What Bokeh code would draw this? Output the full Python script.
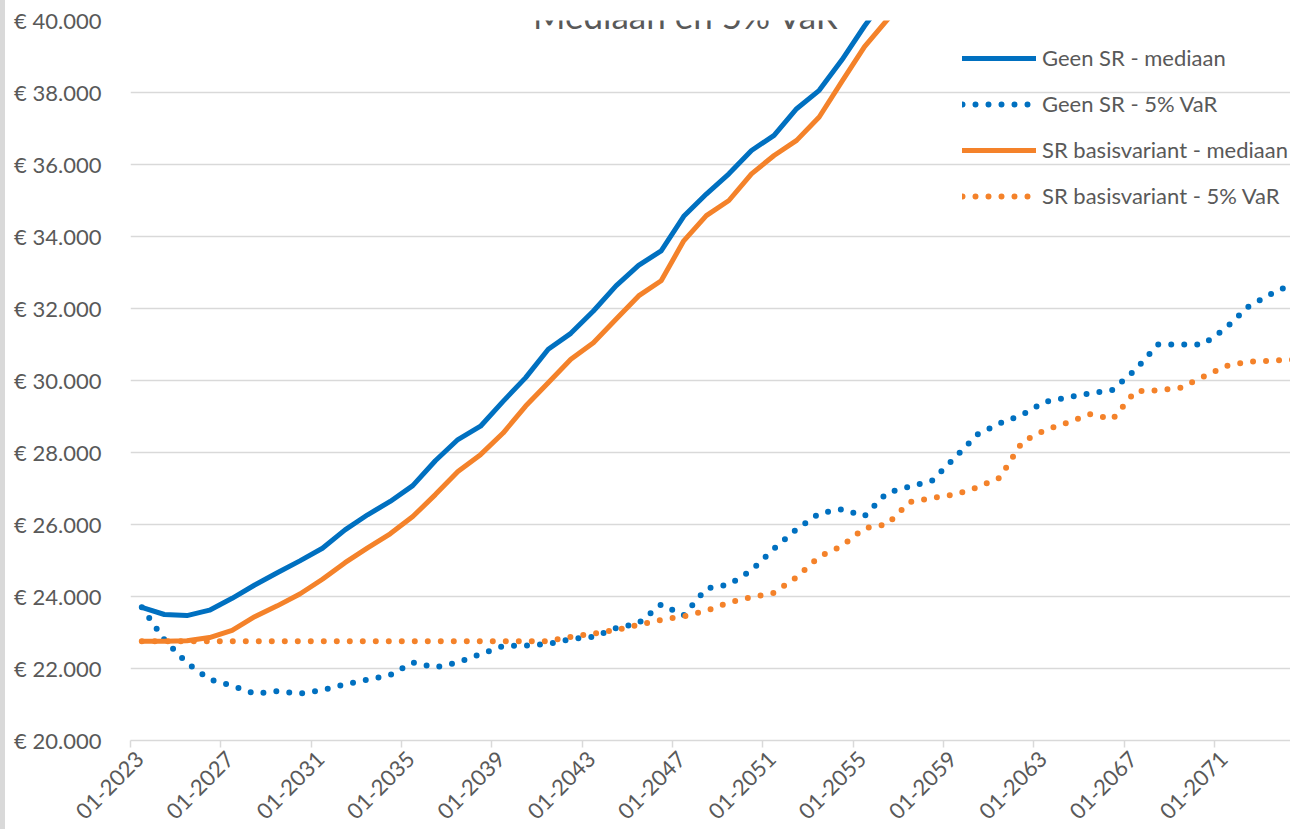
from math import pi
from bokeh.plotting import figure
from bokeh.layouts import row
from bokeh.models import (Range1d, FixedTicker, Legend, LegendItem, Label, Div,
                          LinearAxis)
from bokeh.embed import file_html
from bokeh.resources import INLINE

# ---- data (yearly values, plotted mid-year) ----
years = list(range(2023, 2075))

geen_sr_mediaan = [23700, 23500, 23470, 23620, 23950, 24320, 24660, 24990, 25340, 25850,
                   26270, 26640, 27080, 27770, 28360, 28730, 29420, 30080, 30870, 31310,
                   31930, 32630, 33200, 33600, 34560, 35180, 35740, 36390, 36810, 37550,
                   38060, 38900, 39840, 40700, 41500]

geen_sr_var = [23700, 22800, 22150, 21700, 21520, 21300, 21370, 21300, 21400, 21560,
               21690, 21820, 22170, 22030, 22170, 22400, 22620, 22640, 22680, 22820,
               22880, 23120, 23260, 23780, 23480, 24220, 24330, 24730, 25330, 25870,
               26310, 26420, 26230, 26880, 27050, 27220, 27850, 28500, 28810, 29050,
               29410, 29530, 29640, 29740, 30300, 31000, 31000, 31000, 31450, 32050,
               32400, 32700]

sr_basis_mediaan = [22760, 22760, 22770, 22860, 23060, 23440, 23740, 24070, 24480, 24940,
                    25350, 25740, 26220, 26830, 27470, 27940, 28540, 29290, 29940, 30590,
                    31050, 31700, 32350, 32770, 33880, 34580, 35000, 35740, 36250, 36670,
                    37320, 38300, 39270, 40010, 40800]

sr_basis_var = [22760, 22760, 22760, 22760, 22760, 22760, 22760, 22760, 22760, 22760,
                22760, 22760, 22760, 22760, 22760, 22760, 22760, 22760, 22760, 22880,
                22970, 23070, 23210, 23350, 23450, 23600, 23830, 23980, 24100, 24540,
                25110, 25400, 25900, 26000, 26620, 26740, 26830, 27030, 27300, 28300,
                28620, 28830, 29060, 28930, 29700, 29730, 29800, 30100, 30400, 30520,
                30550, 30580]

series_names = ["Geen SR - mediaan", "Geen SR - 5% VaR",
                "SR basisvariant - mediaan", "SR basisvariant - 5% VaR"]

tick_years = list(range(2023, 2072, 4))
tick_labels = ["01-%d" % y for y in tick_years]
y_ticks = list(range(20000, 40001, 2000))
y_labels = ["€ %d.%03d" % (v // 1000, v % 1000) for v in y_ticks]

title_text = "Mediaan en 5% VaR"

BLUE = "#0070C0"
ORANGE = "#F4822A"
GREY_TXT = "#595959"
GRID = "#D9D9D9"
FONT = "Lato"

BAR_W = 5
X0, X1 = 2023, 2074.37
Y0, Y1 = 20000, 40000
PX = (Y1 - Y0) / 720.0  # data units per pixel (vertical)

p = figure(width=1290 - BAR_W, height=829, output_backend="svg", toolbar_location=None,
           x_range=Range1d(X0, X1), y_range=Range1d(Y0, Y1), x_axis_location=None,
           min_border_left=130 - BAR_W, min_border_right=0, min_border_top=20,
           min_border_bottom=89, margin=0)
p.outline_line_color = None
p.background_fill_color = "white"
p.border_fill_color = "white"

xm = lambda n: [y + 0.5 for y in years[:n]]

r1 = p.line(xm(len(geen_sr_mediaan)), geen_sr_mediaan, line_color=BLUE, line_width=5,
            line_join="round", line_cap="round")
r2 = p.line(xm(len(geen_sr_var)), geen_sr_var, line_color=BLUE, line_width=6,
            line_dash="0 13", line_cap="round", line_join="round")
r3 = p.line(xm(len(sr_basis_mediaan)), sr_basis_mediaan, line_color=ORANGE, line_width=5,
            line_join="round", line_cap="round")
r4 = p.line(xm(len(sr_basis_var)), sr_basis_var, line_color=ORANGE, line_width=6,
            line_dash="0 13", line_cap="round", line_join="round")

# y axis
p.xgrid.visible = False
p.ygrid.grid_line_color = GRID
p.ygrid.grid_line_width = 1.5

p.yaxis.ticker = FixedTicker(ticks=y_ticks)
p.yaxis.major_label_overrides = {v: l for v, l in zip(y_ticks, y_labels)}
p.yaxis.axis_line_color = None
p.yaxis.major_tick_line_color = None
p.yaxis.minor_tick_line_color = None
p.yaxis.major_label_standoff = 23
p.yaxis.major_label_text_font = FONT
p.yaxis.major_label_text_font_size = "22px"
p.yaxis.major_label_text_color = GREY_TXT

# x axis on a slightly shifted range so the rotated labels sit Excel-style to the
# right of their tick; the tick marks themselves are minor ticks at the true years
SHIFT = 0.42
p.extra_x_ranges = {"lab": Range1d(X0 - SHIFT, X1 - SHIFT)}
xaxis = LinearAxis(x_range_name="lab",
                   ticker=FixedTicker(ticks=tick_years,
                                      minor_ticks=[y - SHIFT for y in tick_years]),
                   major_label_overrides={v: l for v, l in zip(tick_years, tick_labels)},
                   axis_line_color=GRID, axis_line_width=1.5,
                   major_tick_line_color=None, major_tick_in=0, major_tick_out=0,
                   minor_tick_line_color=GRID, minor_tick_line_width=1.5,
                   minor_tick_in=0, minor_tick_out=7,
                   major_label_orientation=pi / 4, major_label_standoff=8,
                   major_label_text_font=FONT, major_label_text_font_size="22px",
                   major_label_text_color=GREY_TXT)
p.add_layout(xaxis, "below")

legend = Legend(items=[LegendItem(label=n, renderers=[r]) for n, r in
                       zip(series_names, [r1, r2, r3, r4])],
                location=(832, 531), margin=0, padding=10,
                border_line_color=None, background_fill_alpha=0,
                glyph_width=74, glyph_height=20, label_height=20,
                spacing=19, label_standoff=6,
                label_text_font=FONT, label_text_font_size="22px",
                label_text_color=GREY_TXT)
p.add_layout(legend)

p.add_layout(Label(x=2047.6, y=Y1 + 6 * PX, text=title_text, text_align="center",
                   text_baseline="alphabetic", text_font=FONT,
                   text_font_size="35px", text_color=GREY_TXT))

bar = Div(text="", width=BAR_W, height=829, margin=0,
          styles={"background-color": GRID})
layout = row(bar, p, spacing=0)

open("out.html", "w").write(file_html(layout, INLINE))
